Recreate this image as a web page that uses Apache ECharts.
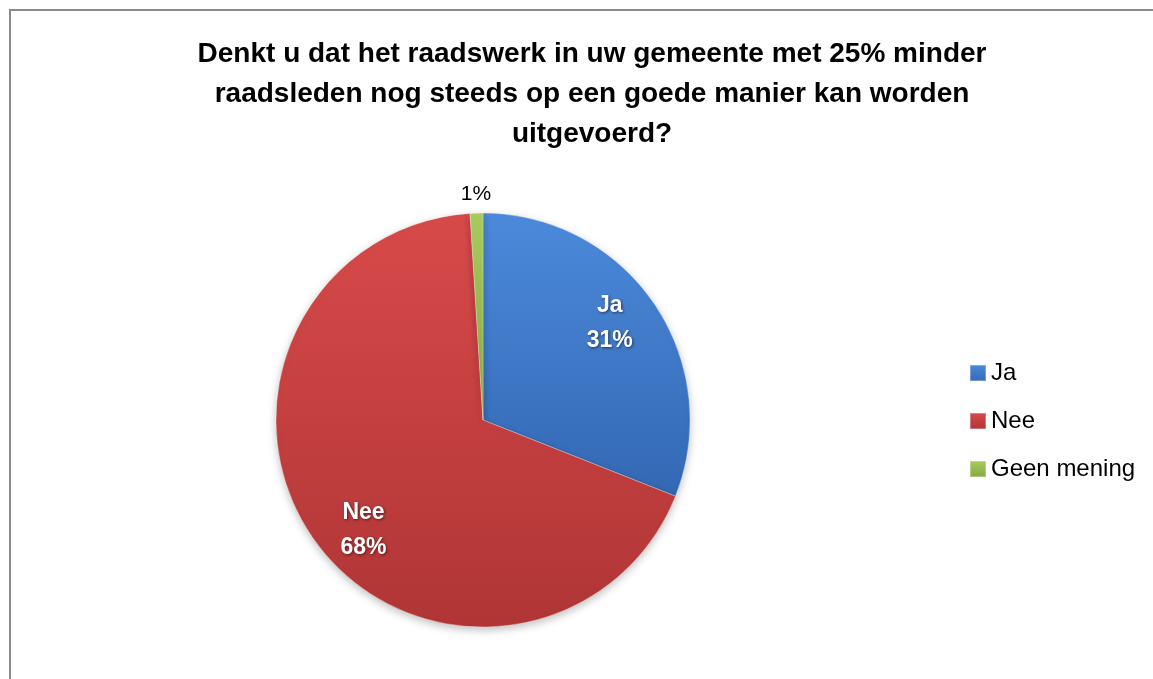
<!DOCTYPE html>
<html>
<head>
<meta charset="utf-8">
<script src="https://cdn.jsdelivr.net/npm/echarts@6/dist/echarts.min.js"></script>
<style>
html,body{margin:0;padding:0;background:#fff;}
#chart{width:1153px;height:679px;}
</style>
</head>
<body>
<div id="chart"></div>
<script>
const titleText = 'Denkt u dat het raadswerk in uw gemeente met 25% minder\nraadsleden nog steeds op een goede manier kan worden\nuitgevoerd?';
const categories = ['Ja', 'Nee', 'Geen mening'];
const values = [31, 68, 1];
const insideLabelNames = ['Ja', 'Nee'];
const outsideLabelNames = ['Geen mening'];

const baseColors = {
  'Ja': ['#4c8adb', '#3368b4'],
  'Nee': ['#d84a4a', '#b03535'],
  'Geen mening': ['#a9cc5e', '#86a844']
};
function grad(name) {
  const c = baseColors[name];
  return new echarts.graphic.LinearGradient(0, 0, 0, 1, [
    {offset: 0, color: c[0]}, {offset: 1, color: c[1]}
  ]);
}
const chart = echarts.init(document.getElementById('chart'));
const FONT = '"Liberation Sans", Arial, sans-serif';
const center = [483, 420];

const mainData = categories.map((n, i) => ({
  name: n, value: values[i],
  itemStyle: {color: grad(n)}
}));
const clear = 'rgba(0,0,0,0)';

chart.setOption({
  backgroundColor: '#ffffff',
  animation: false,
  title: {
    text: titleText,
    left: 587, top: 29,
    textAlign: 'center',
    textStyle: {fontFamily: FONT, fontSize: 28, fontWeight: 'bold', color: '#000', lineHeight: 40}
  },
  legend: {
    orient: 'vertical',
    left: 964, top: 356,
    itemWidth: 16, itemHeight: 16, itemGap: 24,
    icon: 'rect',
    data: categories.map(n => ({name: n, itemStyle: {color: grad(n)}})),
    textStyle: {fontFamily: FONT, fontSize: 24, color: '#000', padding: [0, 0, 0, 0]},
    selectedMode: false
  },
  graphic: [{
    type: 'rect', silent: true,
    shape: {x: 10, y: 10, width: 1200, height: 720},
    style: {fill: 'none', stroke: '#8a8a8a', lineWidth: 2}
  }],
  series: [
    {
      type: 'pie', center: center, radius: [0, 207], startAngle: 90, clockwise: true,
      silent: true,
      data: mainData,
      label: {show: false}, labelLine: {show: false},
      itemStyle: {
        borderColor: 'rgba(255,255,255,0.3)', borderWidth: 1,
        shadowColor: 'rgba(0,0,0,0.25)', shadowBlur: 8, shadowOffsetY: 3
      }
    },
    {
      type: 'pie', center: center, radius: [0, 316], startAngle: 95, clockwise: true,
      silent: true, z: 5,
      data: categories.map((n, i) => ({
        name: n, value: values[i],
        itemStyle: {color: clear},
        label: {show: insideLabelNames.includes(n)}
      })),
      label: {
        position: 'inside',
        offset: [2, 5],
        formatter: '{b}\n{c}%',
        fontFamily: FONT, fontSize: 23, fontWeight: 'bold', color: '#fff', lineHeight: 35,
        textShadowColor: 'rgba(0,0,0,0.55)', textShadowBlur: 3, textShadowOffsetX: 1, textShadowOffsetY: 1
      },
      labelLine: {show: false}
    },
    {
      type: 'pie', center: center, radius: [0, 446], startAngle: 90, clockwise: true,
      silent: true, z: 5,
      data: categories.map((n, i) => ({
        name: n, value: values[i],
        itemStyle: {color: clear},
        label: {show: outsideLabelNames.includes(n)}
      })),
      label: {
        position: 'inside',
        formatter: '{c}%',
        fontFamily: FONT, fontSize: 21, color: '#000'
      },
      labelLine: {show: false}
    }
  ]
});
</script>
</body>
</html>
